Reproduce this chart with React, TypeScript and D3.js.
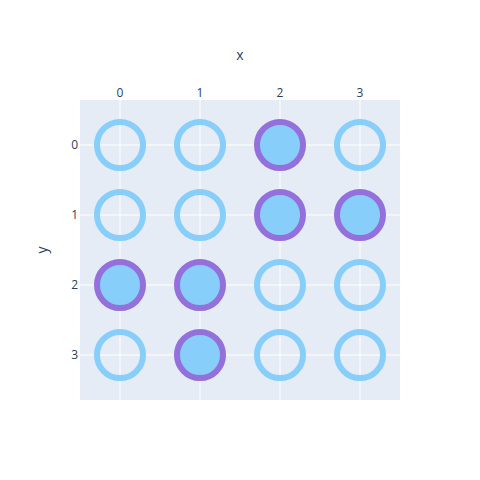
import React from 'react';
import * as d3 from 'd3';

const xCats = [0, 1, 2, 3];
const yCats = [0, 1, 2, 3];
// selected cells (x, y)
const selected: [number, number][] = [[2, 0], [2, 1], [3, 1], [0, 2], [1, 2], [1, 3]];

export default function App() {
  const W = 480, H = 480;
  const m = { left: 80, right: 80, top: 100, bottom: 80 };
  const x = d3.scaleLinear().domain([-0.5, 3.5]).range([m.left, W - m.right]);
  const y = d3.scaleLinear().domain([-0.643, 3.643]).range([m.top, H - m.bottom]);
  const isSel = (a: number, b: number) => selected.some(([sx, sy]) => sx === a && sy === b);
  const font = '"Open Sans", sans-serif';
  const txt = '#2a3f5f';
  const points = xCats.flatMap(a => yCats.map(b => ({ a, b })));
  return (
    <svg width={W} height={H} style={{ position: 'absolute', left: 0, top: 0 }}>
      <rect x={m.left} y={m.top} width={W - m.left - m.right} height={H - m.top - m.bottom} fill="#e5ecf6" />
      {xCats.map(v => (
        <line key={'gx' + v} x1={x(v)} x2={x(v)} y1={m.top} y2={H - m.bottom} stroke="#fff" strokeWidth={1} />
      ))}
      {yCats.map(v => (
        <line key={'gy' + v} x1={m.left} x2={W - m.right} y1={y(v)} y2={y(v)} stroke="#fff" strokeWidth={1} />
      ))}
      {points.map(({ a, b }) => {
        const s = isSel(a, b);
        return (
          <circle key={a + '-' + b} cx={x(a)} cy={y(b)} r={23}
            fill={s ? '#87cefa' : 'none'} stroke={s ? '#9370db' : '#87cefa'} strokeWidth={6} />
        );
      })}
      {xCats.map(v => (
        <text key={'tx' + v} x={x(v)} y={97} textAnchor="middle" fontFamily={font} fontSize={12} fill={txt}>{v}</text>
      ))}
      {yCats.map(v => (
        <text key={'ty' + v} x={78} y={y(v)} dy="0.35em" textAnchor="end" fontFamily={font} fontSize={12} fill={txt}>{v}</text>
      ))}
      <text x={x(1.5)} y={60} textAnchor="middle" fontFamily={font} fontSize={14} fill={txt}>x</text>
      <text transform={`translate(47,${y(1.5)}) rotate(-90)`} textAnchor="middle" fontFamily={font} fontSize={14} fill={txt}>y</text>
    </svg>
  );
}
